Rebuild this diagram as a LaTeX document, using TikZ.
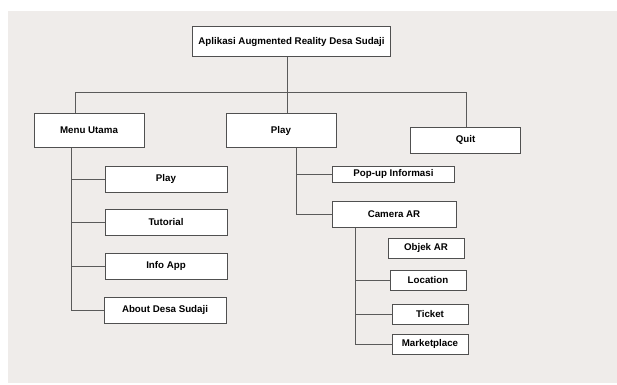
\documentclass[tikz,border=0pt]{standalone}
\usepackage{fontspec}
\setmainfont{Liberation Sans}
\usetikzlibrary{calc}

\definecolor{bgpage}{RGB}{239,236,234}
\definecolor{boxline}{RGB}{80,80,80}
\definecolor{treeline}{RGB}{90,90,90}

\tikzset{every picture/.style={line width=0.75pt}}
\tikzset{
	menubox/.style={draw=boxline, fill=white, line width=0.75pt, inner sep=0pt, font=\bfseries\fontsize{7.3}{8.5}\selectfont, text=black},
	treeedge/.style={draw=treeline, line width=0.75pt}
}

\begin{document}
\begin{tikzpicture}[x=0.75pt,y=0.75pt,yscale=-1,xscale=1]
		\useasboundingbox (0,0) rectangle (617,385);
		
		%Background
		\fill [bgpage] (8,11) rectangle (617,383);
		
		% Top level
		\node [menubox, minimum width=148pt, minimum height=22.5pt] (app) at (291.5,42) {Aplikasi Augmented Reality Desa Sudaji};
		
		% Second level
		\node [menubox, minimum width=82.5pt, minimum height=26pt] (menu) at (89,130.5) {Menu Utama};
		\node [menubox, minimum width=82.5pt, minimum height=26pt] (play) at (281,130.5) {Play};
		\node [menubox, minimum width=83pt, minimum height=19.5pt] (quit) at (465.5,140) {Quit};
		
		% Menu Utama items
		\node [menubox, minimum width=91.5pt, minimum height=19.5pt] (mplay) at (166,179) {Play};
		\node [menubox, minimum width=91.5pt, minimum height=20pt] (tutorial) at (166,222.5) {Tutorial};
		\node [menubox, minimum width=91.5pt, minimum height=19.5pt] (info) at (166,266) {Info App};
		\node [menubox, minimum width=91.5pt, minimum height=19.5pt] (about) at (165,310) {About Desa Sudaji};
		
		% Play items
		\node [menubox, minimum width=92pt, minimum height=12pt] (popup) at (393.5,174) {Pop-up Informasi};
		\node [menubox, minimum width=93pt, minimum height=19.5pt] (camera) at (394,214) {Camera AR};
		
		% Camera AR items
		\node [menubox, minimum width=57pt, minimum height=15pt] (objek) at (426,248) {Objek AR};
		\node [menubox, minimum width=57pt, minimum height=15pt] (location) at (428,280) {Location};
		\node [menubox, minimum width=57pt, minimum height=15pt] (ticket) at (430,314) {Ticket};
		\node [menubox, minimum width=57pt, minimum height=15pt] (market) at (430,344) {Marketplace};
		
		% Branch points
		\coordinate (busl) at (75,92);
		\coordinate (busm) at (287,92);
		\coordinate (busr) at (466,92);
		\coordinate (mtrunk) at (71,148);
		\coordinate (ptrunk) at (296,148);
		\coordinate (ctrunk) at (355,227);
		
		%Straight Lines
		\draw [treeedge] (app.south -| busm) -- (busm);
		\draw [treeedge] (busl |- menu.north) -- (busl) -- (busr) -- (busr |- quit.north);
		\draw [treeedge] (busm) -- (busm |- play.north);
		
		%Menu Utama branch
		\draw [treeedge] (mtrunk |- menu.south) -- (mtrunk |- about.west) -- (about.west);
		\draw [treeedge] (mtrunk |- mplay.west) -- (mplay.west);
		\draw [treeedge] (mtrunk |- tutorial.west) -- (tutorial.west);
		\draw [treeedge] (mtrunk |- info.west) -- (info.west);
		
		%Play branch
		\draw [treeedge] (ptrunk |- play.south) -- (ptrunk |- camera.west) -- (camera.west);
		\draw [treeedge] (ptrunk |- popup.west) -- (popup.west);
		
		%Camera AR branch
		\draw [treeedge] (ctrunk |- camera.south) -- (ctrunk |- market.west) -- (market.west);
		\draw [treeedge] (ctrunk |- location.west) -- (location.west);
		\draw [treeedge] (ctrunk |- ticket.west) -- (ticket.west);
		
\end{tikzpicture}
\end{document}
